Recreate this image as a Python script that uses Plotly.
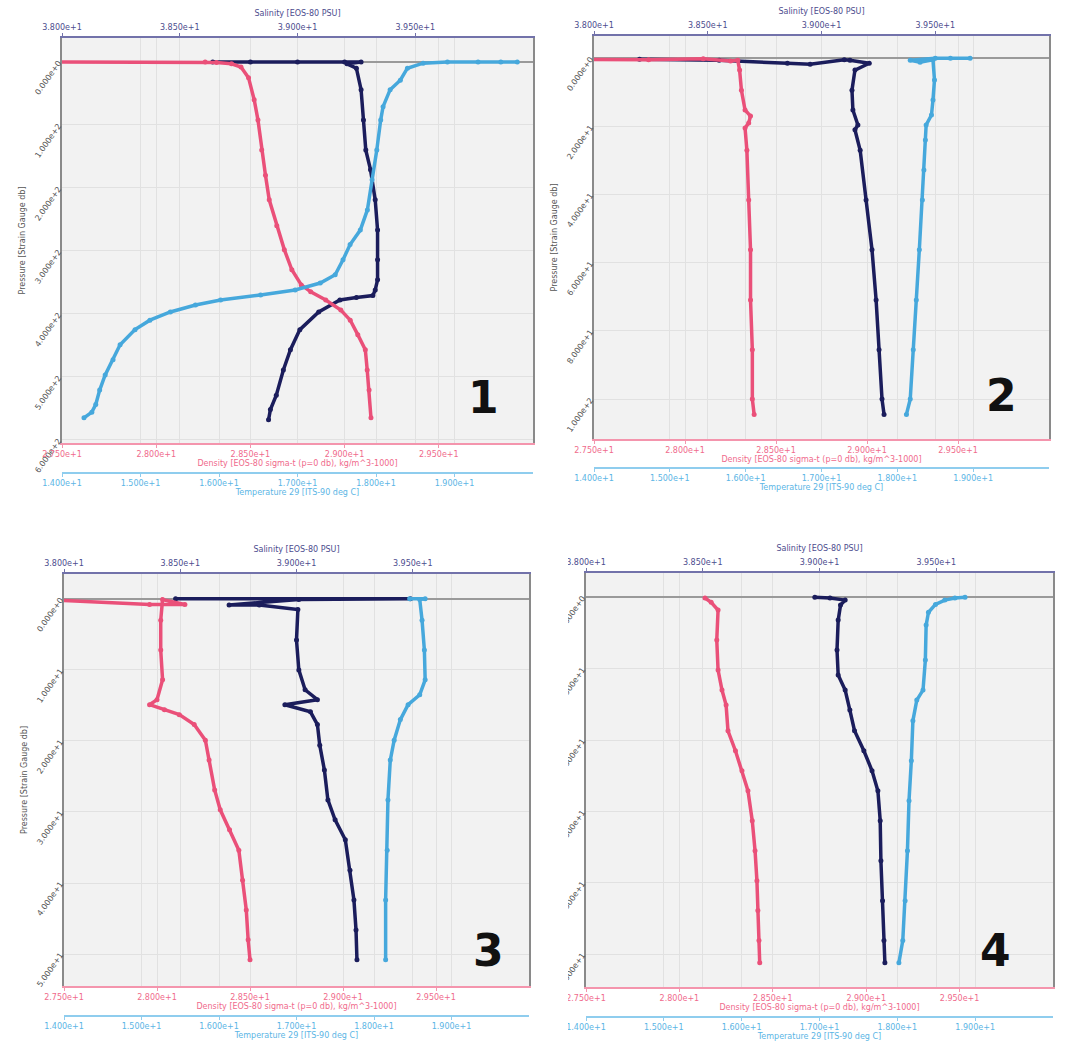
import plotly.graph_objects as go

# ---------------- data ----------------
# Panel 1
sal1   = [38.64, 38.80, 39.00, 39.20, 39.27, 39.21, 39.25, 39.27, 39.28, 39.29, 39.31, 39.33, 39.34, 39.34, 39.34, 39.33, 39.32, 39.25, 39.18, 39.09, 39.01, 38.97, 38.94, 38.91, 38.885, 38.877]
sal1_p = [0, 0, 0, 0, 0, 3, 10, 44, 92, 140, 171, 219, 267, 314, 346, 362, 371, 374, 378, 397, 425, 457, 489, 529, 552, 568]
den1   = [27.30, 28.26, 28.32, 28.40, 28.45, 28.49, 28.52, 28.54, 28.56, 28.58, 28.60, 28.64, 28.68, 28.72, 28.77, 28.82, 28.90, 28.98, 29.03, 29.07, 29.11, 29.12, 29.13, 29.14]
den1_p = [0, 0, 1, 3, 8, 25, 60, 92, 140, 180, 219, 260, 298, 330, 354, 365, 378, 394, 410, 433, 457, 489, 521, 565]
tmp1   = [19.80, 19.59, 19.30, 18.91, 18.60, 18.40, 18.31, 18.18, 18.09, 18.06, 18.01, 17.95, 17.89, 17.80, 17.67, 17.58, 17.48, 17.29, 16.97, 16.53, 16.02, 15.70, 15.38, 15.12, 14.93, 14.74, 14.65, 14.55, 14.48, 14.43, 14.38, 14.28]
tmp1_p = [0, 0, 0, 0, 2, 10, 29, 44, 71, 92, 140, 187, 235, 267, 290, 314, 338, 351, 362, 370, 378, 386, 397, 410, 425, 449, 473, 497, 521, 544, 556, 565]

# Panel 2
sal2   = [38.20, 38.55, 38.85, 38.95, 39.10, 39.125, 39.21, 39.147, 39.134, 39.138, 39.16, 39.147, 39.17, 39.196, 39.222, 39.24, 39.253, 39.266, 39.275]
sal2_p = [0.3, 0.6, 1.5, 1.8, 0.5, 0.6, 1.5, 3.5, 9.4, 15.2, 19.6, 21, 27, 41.6, 56.2, 70.9, 85.5, 100, 104.5]
den2   = [27.30, 27.80, 28.10, 28.25, 28.29, 28.30, 28.31, 28.33, 28.36, 28.35, 28.33, 28.34, 28.35, 28.36, 28.36, 28.37, 28.37, 28.38]
den2_p = [0.3, 0.5, 0.2, 0.8, 0.6, 3.5, 9.4, 15.2, 17.0, 19.0, 20.5, 27, 41.6, 56.2, 70.9, 85.5, 100, 104.5]
tmp2   = [18.96, 18.70, 18.50, 18.17, 18.30, 18.47, 18.49, 18.47, 18.45, 18.38, 18.37, 18.35, 18.33, 18.29, 18.25, 18.21, 18.17, 18.12]
tmp2_p = [0, 0, 0, 0.6, 1.2, 0.5, 6.4, 12.3, 16.7, 19.6, 24, 32.8, 41.6, 56.2, 70.9, 85.5, 100, 104.5]

# Panel 3
sal3   = [38.48, 39.49, 39.01, 38.71, 38.84, 39.006, 39.00, 39.01, 39.037, 39.09, 38.95, 39.06, 39.09, 39.10, 39.12, 39.135, 39.166, 39.21, 39.23, 39.247, 39.256, 39.26]
sal3_p = [0, 0, 0.1, 0.85, 0.85, 1.5, 5.8, 10, 12.8, 14.2, 14.9, 15.9, 17.7, 20.6, 24.1, 28.3, 31.1, 33.9, 38.2, 42.4, 46.6, 50.8]
den3   = [27.30, 27.96, 28.15, 28.03, 28.02, 28.02, 28.03, 28.00, 27.96, 28.04, 28.12, 28.20, 28.26, 28.28, 28.31, 28.34, 28.39, 28.44, 28.46, 28.48, 28.49, 28.50]
den3_p = [0, 0.8, 0.8, 0.1, 3, 7.2, 11.4, 14.2, 14.9, 15.6, 16.3, 17.7, 19.9, 22.7, 26.9, 29.7, 32.5, 35.4, 39.6, 43.8, 48, 50.8]
tmp3   = [18.46, 18.66, 18.59, 18.62, 18.65, 18.66, 18.59, 18.44, 18.34, 18.26, 18.21, 18.18, 18.17, 18.15, 18.15]
tmp3_p = [0, 0, 0.1, 3, 7.2, 11.4, 13.5, 14.9, 17, 19.9, 22.7, 28.3, 35.4, 42.4, 50.8]

# Panel 4
sal4   = [38.98, 39.045, 39.11, 39.09, 39.08, 39.075, 39.08, 39.11, 39.13, 39.15, 39.19, 39.225, 39.25, 39.26, 39.263, 39.27, 39.276, 39.28]
sal4_p = [0, 0.1, 0.4, 1.1, 3.2, 7.4, 10.9, 13, 15.8, 18.7, 21.5, 24.3, 27.1, 31.3, 36.9, 42.5, 48.1, 51.2]
den4   = [28.137, 28.17, 28.207, 28.20, 28.207, 28.228, 28.25, 28.26, 28.30, 28.335, 28.367, 28.39, 28.405, 28.415, 28.42, 28.426, 28.43]
den4_p = [0.1, 0.7, 1.8, 6, 10.2, 13, 15.1, 18.7, 21.5, 24.3, 27.1, 31.3, 35.5, 39.7, 43.9, 48.1, 51.2]
tmp4   = [18.87, 18.74, 18.61, 18.49, 18.40, 18.37, 18.36, 18.33, 18.25, 18.20, 18.18, 18.15, 18.13, 18.10, 18.07, 18.02]
tmp4_p = [0, 0.1, 0.4, 1, 2.1, 3.9, 8.8, 13, 14.4, 17.3, 22.9, 28.5, 35.5, 42.5, 48.1, 51.2]

sal_ticks = [38.0, 38.5, 39.0, 39.5]
den_ticks = [27.5, 28.0, 28.5, 29.0, 29.5]
tmp_ticks = [14, 15, 16, 17, 18, 19]
p_ticks1 = [0, 100, 200, 300, 400, 500, 600]
p_ticks2 = [0, 20, 40, 60, 80, 100]
p_ticks3 = [0, 10, 20, 30, 40, 50]
p_ticks4 = [0, 10, 20, 30, 40, 50]
panel_labels = ["1", "2", "3", "4"]

sal_title = "Salinity [EOS-80 PSU]"
den_title = "Density [EOS-80 sigma-t (p=0 db), kg/m^3-1000]"
tmp_title = "Temperature 29 [ITS-90 deg C]"
p_title = "Pressure [Strain Gauge db]"

# ---------------- layout / style ----------------
W, H = 1076, 1054
FONT = "DejaVu Sans"
NAVY, PINK, BLUE = "#1b1d5c", "#ea5079", "#46a8dc"
NAVY_TXT, PINK_TXT, BLUE_TXT = "#4c4c8e", "#f06a8c", "#5bb5e5"
NAVY_LN, PINK_LN, BLUE_LN = "#7272aa", "#f495ad", "#8fcdee"
GRID = "#e1e1e1"

def fx(x):
    return x / W

def fy(y):
    return 1 - y / H

panels = [
    dict(left=62, right=533, top=38, bottom=443, tpos=473, prange=[605, -38], pticks=p_ticks1,
         data=(sal1, sal1_p, den1, den1_p, tmp1, tmp1_p), lx=483, ly=397, ytitle=p_title),
    dict(left=594, right=1049, top=36, bottom=439, tpos=468, prange=[111.7, -6.5], pticks=p_ticks2,
         data=(sal2, sal2_p, den2, den2_p, tmp2, tmp2_p), lx=1002, ly=395, ytitle=p_title),
    dict(left=64, right=529, top=574, bottom=986, tpos=1016, prange=[54.5, -3.5], pticks=p_ticks3,
         data=(sal3, sal3_p, den3, den3_p, tmp3, tmp3_p), lx=488, ly=950, ytitle=p_title),
    dict(left=586, right=1053, top=573, bottom=987, tpos=1017, prange=[54.6, -3.4], pticks=p_ticks4,
         data=(sal4, sal4_p, den4, den4_p, tmp4, tmp4_p), lx=995, ly=950, ytitle=""),
]

fig = go.Figure()
layout = {}
annotations = []

def aid(prefix, n):
    return prefix if n == 1 else f"{prefix}{n}"

def lkey(prefix, n):
    return prefix + "axis" if n == 1 else f"{prefix}axis{n}"

tickfont = lambda c: dict(family=FONT, size=8, color=c)

for k, pnl in enumerate(panels):
    xs, xd, xt = 3 * k + 1, 3 * k + 2, 3 * k + 3
    yn = k + 1
    sal, salp, den, denp, tmp, tmpp = pnl["data"]

    for xv, pv, xn, col, name in [(sal, salp, xs, NAVY, "Salinity"),
                                  (den, denp, xd, PINK, "Density"),
                                  (tmp, tmpp, xt, BLUE, "Temperature")]:
        fig.add_trace(go.Scatter(
            x=xv, y=pv, mode="lines+markers", name=name, showlegend=False,
            xaxis=aid("x", xn), yaxis=aid("y", yn),
            line=dict(color=col, width=3.5),
            marker=dict(color=col, size=5),
        ))

    dom = [fx(pnl["left"]), fx(pnl["right"])]
    base = aid("x", xs)
    layout[lkey("x", xs)] = dict(
        domain=dom, range=[38, 40], side="top", anchor=aid("y", yn), automargin=False,
        tickvals=sal_ticks, tickformat=".3e", tickfont=tickfont(NAVY_TXT),
        showline=True, linecolor=NAVY_LN, linewidth=1.5,
        ticks="outside", ticklen=3, tickcolor=NAVY_LN,
        showgrid=True, gridcolor=GRID, zeroline=False,
        title=dict(text=sal_title, font=dict(family=FONT, size=8, color=NAVY_TXT), standoff=5),
    )
    layout[lkey("x", xd)] = dict(
        range=[27.5, 30], side="bottom", anchor=aid("y", yn), overlaying=base, automargin=False,
        tickvals=den_ticks, tickformat=".3e", tickfont=tickfont(PINK_TXT),
        showline=True, linecolor=PINK_LN, linewidth=1.5,
        ticks="outside", ticklen=3, tickcolor=PINK_LN,
        showgrid=True, gridcolor=GRID, zeroline=False,
        title=dict(text=den_title, font=dict(family=FONT, size=8, color=PINK_TXT), standoff=1),
    )
    layout[lkey("x", xt)] = dict(
        range=[14, 20], side="bottom", anchor="free", position=fy(pnl["tpos"]), overlaying=base,
        automargin=False,
        tickvals=tmp_ticks, tickformat=".3e", tickfont=tickfont(BLUE_TXT),
        showline=True, linecolor=BLUE_LN, linewidth=1.5,
        ticks="outside", ticklen=3, tickcolor=BLUE_LN,
        showgrid=True, gridcolor=GRID, zeroline=False,
        title=dict(text=tmp_title, font=dict(family=FONT, size=8, color=BLUE_TXT), standoff=1),
    )
    layout[lkey("y", yn)] = dict(
        domain=[fy(pnl["bottom"]), fy(pnl["top"])], range=pnl["prange"], anchor=base,
        automargin=False,
        tickvals=pnl["pticks"], tickformat=".3e", tickangle=-55, tickfont=tickfont("#555555"),
        showline=True, linecolor="#8a8a8a", linewidth=2, mirror=True,
        showgrid=True, gridcolor=GRID,
        zeroline=True, zerolinecolor="#9a9a9a", zerolinewidth=1.5,
        title=dict(text=pnl["ytitle"], font=dict(family=FONT, size=8, color="#555555"), standoff=6),
    )
    annotations.append(dict(
        text=panel_labels[k], x=fx(pnl["lx"]), y=fy(pnl["ly"]), xref="paper", yref="paper",
        xanchor="center", yanchor="middle", showarrow=False,
        font=dict(family="DejaVu Sans", size=44, color="#111111", weight="bold"),
    ))

fig.update_layout(
    width=W, height=H, margin=dict(l=0, r=0, t=0, b=0, autoexpand=False),
    paper_bgcolor="white", plot_bgcolor="#f2f2f2",
    font=dict(family=FONT, size=8),
    annotations=annotations,
    shapes=[dict(type="rect", xref="paper", yref="paper", x0=fx(536), x1=fx(568), y0=0, y1=fy(540),
                 fillcolor="white", line=dict(width=0), layer="above")],
    **layout,
)

fig.write_html("out.html")
